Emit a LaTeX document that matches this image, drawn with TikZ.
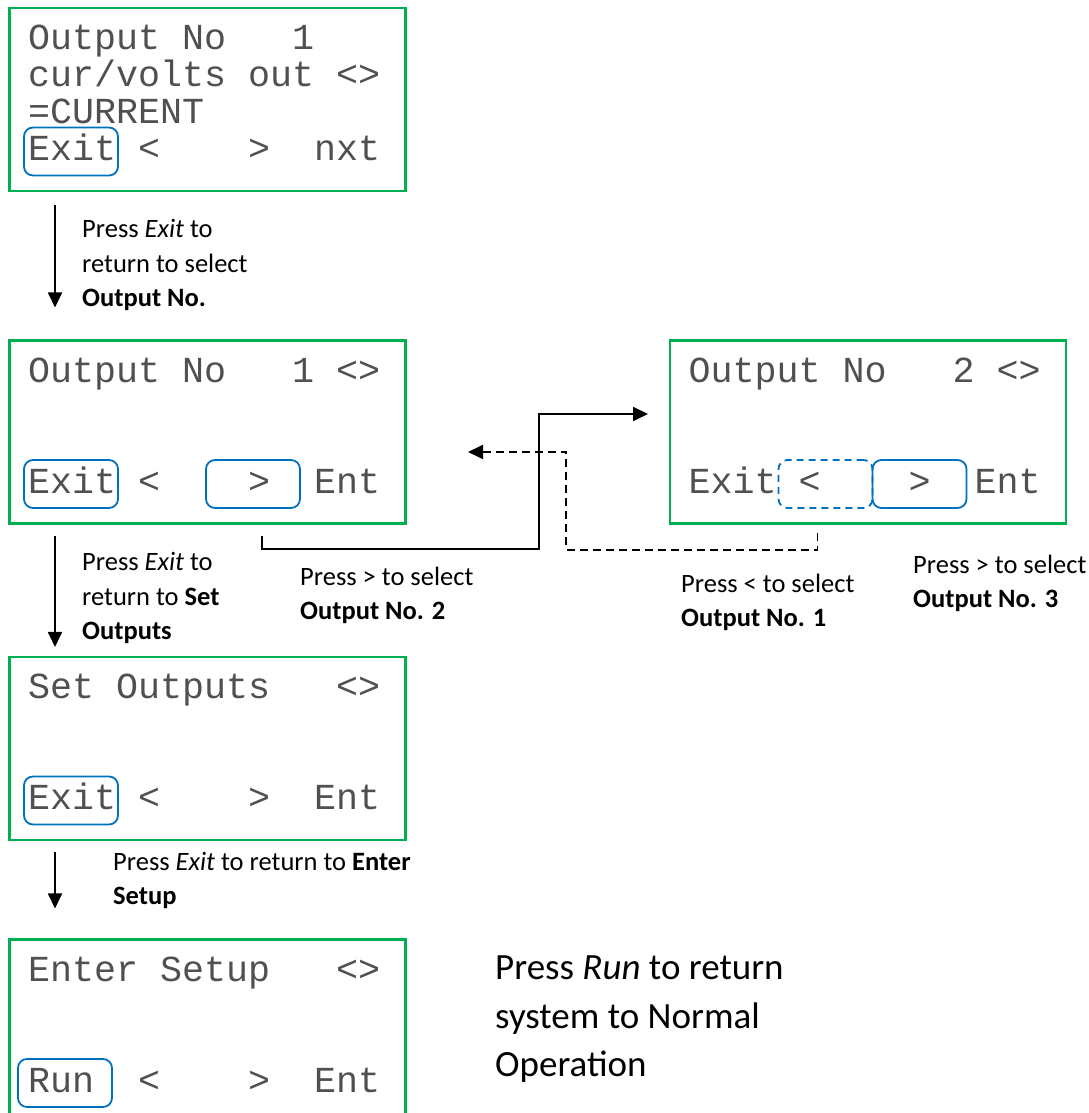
\documentclass[tikz,border=0pt]{standalone}
\usepackage{fontspec}
\setmainfont{Carlito}
\newfontfamily\lcdfont{Liberation Mono}
\usepackage{xcolor}
\definecolor{lcdedge}{HTML}{00B050}
\definecolor{keyedge}{HTML}{0070C0}
\definecolor{lcdink}{HTML}{505050}
\usetikzlibrary{arrows.meta, positioning, calc}
\newcommand{\lblsize}{\fontsize{26.5}{34.5}\selectfont}
\newcommand{\lcdsize}{\lcdfont\fontsize{36.67}{37}\selectfont}

\begin{document}
\begin{tikzpicture}[
  x=1pt, y=1pt,
  font=\lblsize,
  S/.style={
    draw=lcdedge, line width=2.5pt, inner sep=0pt,
    minimum width=396pt, minimum height=183pt
  },
  T/.style={font=\lcdsize, text=lcdink, anchor=base west, inner sep=0pt},
  K/.style={
    draw=keyedge, line width=1.8pt, rounded corners=9pt, inner sep=0pt,
    minimum width=94pt, minimum height=48pt
  },
  Kd/.style={K, dash pattern=on 7pt off 5pt},
  L/.style={anchor=base west, align=left, inner sep=0pt},
  arr/.style={-{Triangle[length=15pt, width=14pt]}, line width=1.8pt},
  darr/.style={arr, dash pattern=on 8pt off 5pt}
]
  \useasboundingbox (0,0) rectangle (1088,1113);

  % screens
  \node[S, anchor=north west] (s1) at (8,1106) {};
  \node[S, below=147pt of s1] (s2) {};
  \node[S, right=262pt of s2] (s3) {};
  \node[S, below=131pt of s2] (s4) {};
  \node[S, below=97pt of s4] (s5) {};

  % screen text
  \node[T] (r1a) at ($(s1.north west)+(20,-43)$) {Output~No~~~1};
  \node[T] (r1b) at ($(s1.north west)+(20,-80)$) {cur/volts~out~<>};
  \node[T] (r1c) at ($(s1.north west)+(20,-117)$) {=CURRENT};
  \node[T] (r1d) at ($(s1.north west)+(20,-154)$) {Exit~<~~~~>~~nxt};
  \node[T] (r2a) at ($(s2.north west)+(20,-43)$) {Output~No~~~1~<>};
  \node[T] (r2d) at ($(s2.north west)+(20,-154)$) {Exit~<~~~~>~~Ent};
  \node[T] (r3a) at ($(s3.north west)+(20,-43)$) {Output~No~~~2~<>};
  \node[T] (r3d) at ($(s3.north west)+(20,-154)$) {Exit~<~~~~>~~Ent};
  \node[T] (r4a) at ($(s4.north west)+(20,-43)$) {Set~Outputs~~~<>};
  \node[T] (r4d) at ($(s4.north west)+(20,-154)$) {Exit~<~~~~>~~Ent};
  \node[T] (r5a) at ($(s5.north west)+(20,-43)$) {Enter~Setup~~~<>};
  \node[T] (r5d) at ($(s5.north west)+(20,-154)$) {Run~~<~~~~>~~Ent};

  % keys
  \node[K] (k1) at ($(s1.south west)+(63,41)$) {};
  \node[K] (k2x) at ($(s2.south west)+(63,41)$) {};
  \node[K] (k2r) at ($(s2.south west)+(245,41)$) {};
  \node[Kd] (k3l) at ($(s3.south west)+(157,41)$) {};
  \node[K] (k3r) at ($(s3.south west)+(251,41)$) {};
  \node[K] (k4) at ($(s4.south west)+(63,41)$) {};
  \node[K] (k5) at ($(s5.south west)+(57,41)$) {};

  % down the menu
  \foreach \a/\b/\s/\e in {s1/s2/13/32, s2/s4/11/9, s4/s5/11/30}
    \draw[arr, shorten <=\s pt, shorten >=\e pt]
      ([xshift=47pt]\a.south west) -- ([xshift=47pt]\b.north west);

  % across
  \coordinate (p2) at ($(s2.south west)+(254,-11)$);
  \coordinate (c1) at (539,564);
  \coordinate (t3) at (648,699);
  \draw[arr] (p2) |- (c1) |- (t3);
  \coordinate (p3) at ($(s3.south west)+(149,-8)$);
  \coordinate (c2) at (566,563);
  \coordinate (t2) at (468,661);
  \draw[darr] (p3) |- (c2) |- (t2);

  % labels (placed at the baseline of their last line)
  \node[L] (l1) at (82,806) {Press \textit{Exit} to\\return to select\\\textbf{Output No.}};
  \node[L] (l2) at (82,473) {Press \textit{Exit} to\\return to \textbf{Set}\\\textbf{Outputs}};
  \node[L] (l3) at (300,493) {Press > to select\\\textbf{Output No. 2}};
  \node[L] (l4) at (681,486) {Press < to select\\\textbf{Output No. 1}};
  \node[L] (l5) at (913,505) {Press > to select\\\textbf{Output No. 3}};
  \node[L] (l6) at (113,208) {Press \textit{Exit} to return to \textbf{Enter}\\\textbf{Setup}};
  \node[L, font=\fontsize{37}{48.5}\selectfont] (l7) at (495,36)
    {Press \textit{Run} to return\\system to Normal\\Operation};
\end{tikzpicture}
\end{document}
